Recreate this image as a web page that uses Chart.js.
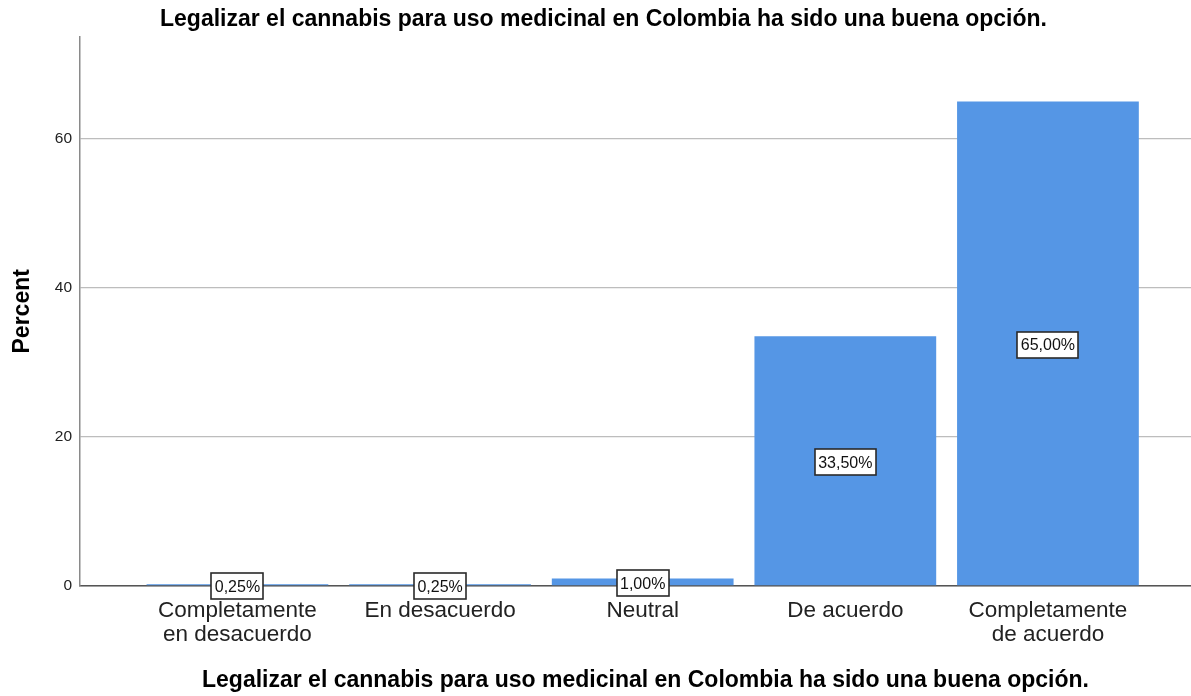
<!DOCTYPE html>
<html>
<head>
<meta charset="utf-8">
<script src="https://cdn.jsdelivr.net/npm/chart.js@4"></script>
<style>
html,body{margin:0;padding:0;background:#fff;}
#wrap{width:1191px;height:696px;}
</style>
</head>
<body>
<div id="wrap"><canvas id="c" width="1191" height="696"></canvas></div>
<script>
const categories = [["Completamente","en desacuerdo"],"En desacuerdo","Neutral","De acuerdo",["Completamente","de acuerdo"]];
const percents = [0.25, 0.25, 1.00, 33.50, 65.00];
const valueLabels = ["0,25%","0,25%","1,00%","33,50%","65,00%"];
const yTicks = [0, 20, 40, 60];
const titleText = "Legalizar el cannabis para uso medicinal en Colombia ha sido una buena opción.";
const xTitleText = "Legalizar el cannabis para uso medicinal en Colombia ha sido una buena opción.";

const FONT = "Arial, 'Liberation Sans', sans-serif";

const labelPlugin = {
  id: 'boxLabels',
  afterDatasetsDraw(chart) {
    const ctx = chart.ctx;
    const meta = chart.getDatasetMeta(0);
    ctx.save();
    ctx.font = "16px " + FONT;
    ctx.textAlign = 'center';
    ctx.textBaseline = 'middle';
    meta.data.forEach((bar, i) => {
      const txt = valueLabels[i];
      const cx = bar.x;
      const cy = (bar.y + bar.base) / 2 + 1.5;
      const w = ctx.measureText(txt).width + 7;
      const h = 26;
      ctx.fillStyle = '#fff';
      ctx.fillRect(Math.round(cx - w/2), Math.round(cy - h/2), Math.round(w), h);
      ctx.strokeStyle = '#2a2a2a';
      ctx.lineWidth = 1.6;
      ctx.strokeRect(Math.round(cx - w/2), Math.round(cy - h/2), Math.round(w), h);
      ctx.fillStyle = '#111';
      ctx.fillText(txt, cx, cy + 1);
    });
    ctx.restore();
  }
};

const titlesPlugin = {
  id: 'titles',
  afterDraw(chart) {
    const ctx = chart.ctx;
    const area = chart.chartArea;
    ctx.save();
    ctx.font = "bold 23px " + FONT;
    ctx.fillStyle = '#000';
    ctx.textAlign = 'center';
    ctx.textBaseline = 'middle';
    ctx.fillText(titleText, (area.left + area.right) / 2 - 32, 19.8);
    ctx.fillText(xTitleText, (area.left + area.right) / 2 + 10, 680.2);
    ctx.restore();
  }
};

new Chart(document.getElementById('c'), {
  type: 'bar',
  data: {
    datasets: [{
      data: percents.map((v, i) => ({x: i, y: v})),
      backgroundColor: '#5596e5',
      borderWidth: 0,
      barPercentage: 0.897,
      categoryPercentage: 1.0
    }]
  },
  options: {
    responsive: false,
    animation: false,
    devicePixelRatio: 1,
    layout: { padding: { left: 0, right: 0, top: 36.6, bottom: 0 } },
    plugins: {
      legend: { display: false },
      tooltip: { enabled: false },
      title: { display: false }
    },
    scales: {
      x: {
        type: 'linear',
        min: -0.777,
        max: 4.706,
        offset: false,
        afterFit(scale) { scale.height = 110; },
        afterBuildTicks(scale) {
          scale.ticks = categories.map((c, i) => ({value: i}));
        },
        grid: { display: false, drawTicks: false },
        border: { display: true, color: '#555', width: 1.5 },
        ticks: {
          autoSkip: false,
          maxRotation: 0,
          padding: 13,
          color: '#222',
          font: { family: FONT, size: 22.5, lineHeight: 1.067 },
          callback: (v) => categories[Math.round(v)]
        },
        title: { display: false }
      },
      y: {
        min: 0,
        max: 73.7,
        afterFit(scale) { scale.width = 80; },
        afterBuildTicks(scale) {
          scale.ticks = yTicks.map(v => ({value: v}));
        },
        grid: { color: '#bdbdbd', lineWidth: 1.3, drawTicks: false },
        border: { display: true, color: '#8a8a8a', width: 1.5 },
        ticks: {
          padding: 8,
          color: '#222',
          font: { family: FONT, size: 15.5 }
        },
        title: {
          display: true,
          text: 'Percent',
          color: '#000',
          font: { family: FONT, size: 23, weight: 'bold', lineHeight: 1.2 },
          padding: 9
        }
      }
    }
  },
  plugins: [labelPlugin, titlesPlugin]
});
</script>
</body>
</html>
